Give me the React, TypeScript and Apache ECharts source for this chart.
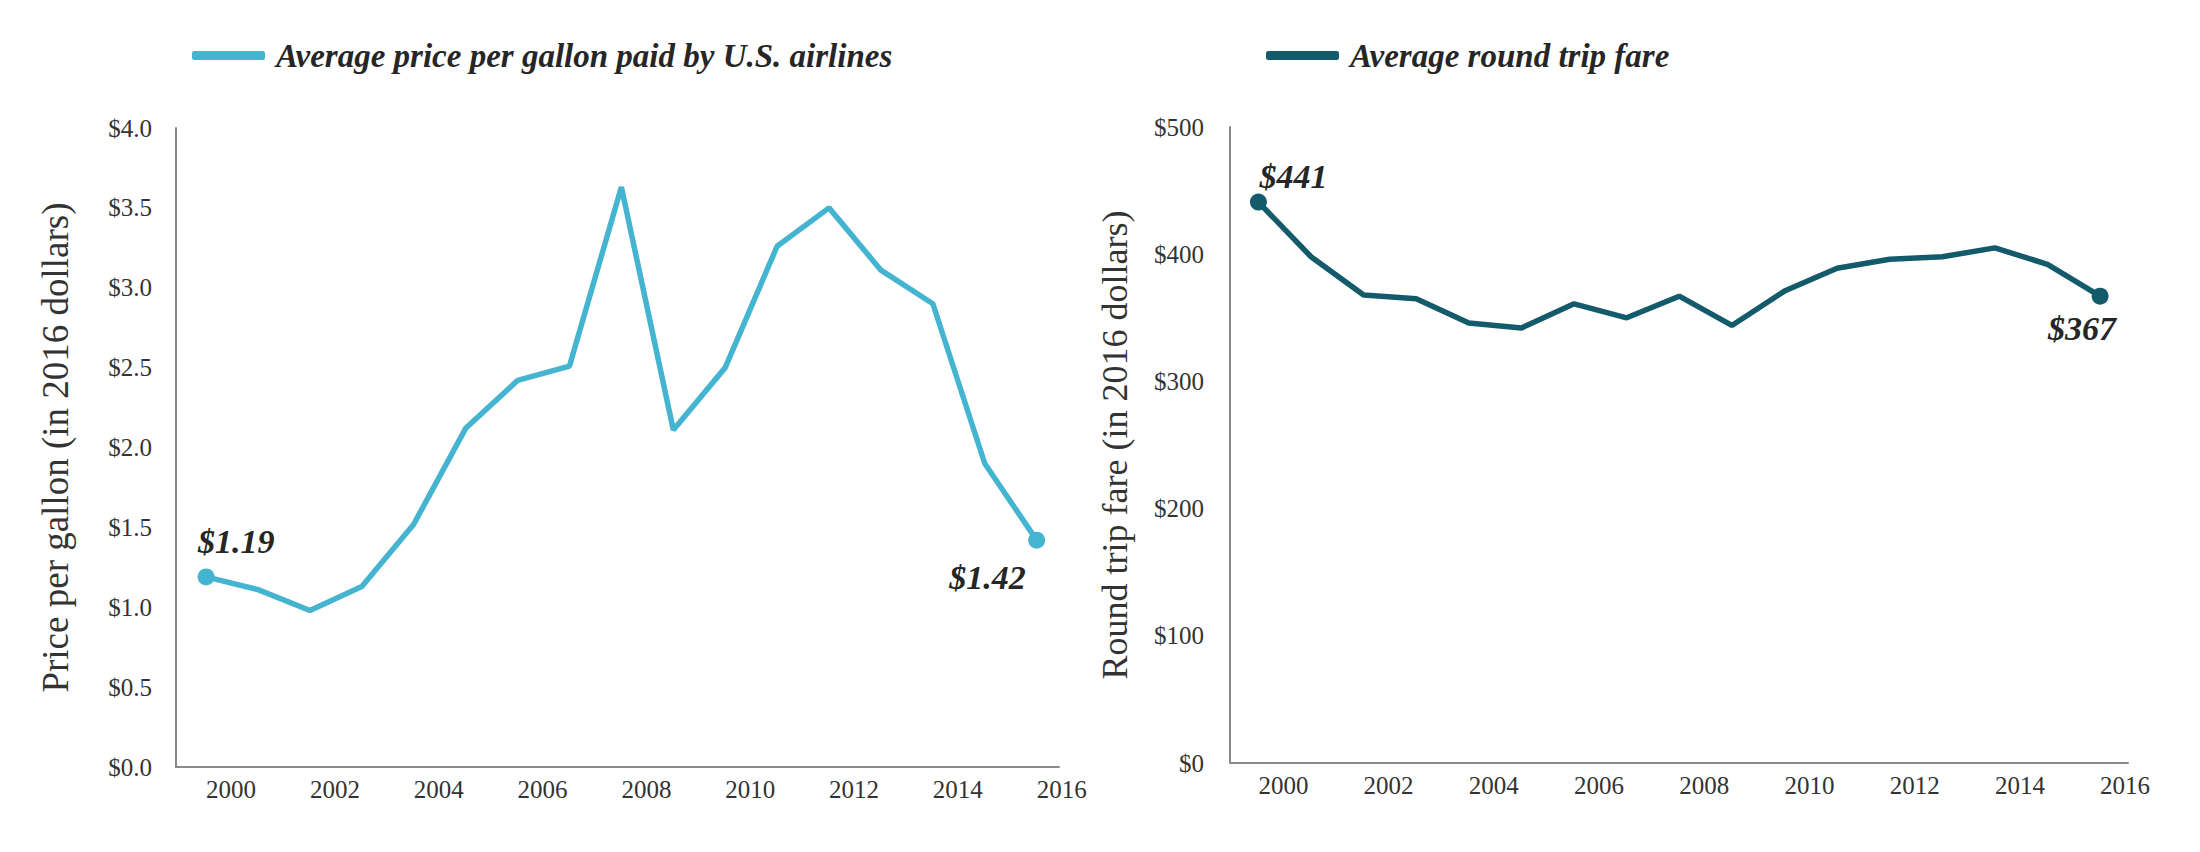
import React, { useEffect, useRef } from "react";
import * as echarts from "echarts";

const years = [2000, 2001, 2002, 2003, 2004, 2005, 2006, 2007, 2008, 2009, 2010, 2011, 2012, 2013, 2014, 2015, 2016];
const fuelPrice = [1.19, 1.11, 0.98, 1.13, 1.52, 2.12, 2.42, 2.51, 3.63, 2.11, 2.5, 3.26, 3.5, 3.11, 2.9, 1.9, 1.42];
const roundTripFare = [441, 398, 368, 365, 346, 342, 361, 350, 367, 344, 371, 389, 396, 398, 405, 392, 367];
const yearTicks = [2000, 2002, 2004, 2006, 2008, 2010, 2012, 2014, 2016];

const fuelName = "Average price per gallon paid by U.S. airlines";
const fareName = "Average round trip fare";
const fuelTitle = "Price per gallon (in 2016 dollars)";
const fareTitle = "Round trip fare (in 2016 dollars)";

const FUEL_COLOR = "#45b4d0";
const FARE_COLOR = "#135b6b";
const SERIF = "'Liberation Serif', 'DejaVu Serif', serif";
const AXIS_COLOR = "#8a8a8a";
const TEXT_COLOR = "#333333";
const LABEL_COLOR = "#262626";

function xAxisCfg(gridIndex: number, min: number, max: number) {
  return {
    type: "value",
    gridIndex,
    min,
    max,
    axisLine: { show: true, lineStyle: { color: AXIS_COLOR, width: 2 } },
    axisTick: { show: false, customValues: yearTicks },
    splitLine: { show: false },
    axisLabel: {
      customValues: yearTicks,
      formatter: (v: number) => String(Math.round(v)),
      align: "left",
      margin: 10,
      fontFamily: SERIF,
      fontSize: 25,
      color: TEXT_COLOR,
    },
  };
}

const legendText = {
  fontFamily: SERIF,
  fontSize: 33,
  fontWeight: "bold",
  fontStyle: "italic",
  color: LABEL_COLOR,
  padding: [0, 0, 0, 6],
};

export default function App() {
  const ref = useRef<HTMLDivElement>(null);

  useEffect(() => {
    if (!ref.current) return;
    const chart = echarts.init(ref.current, null, { renderer: "svg" });
    const last = years.length - 1;
    const endLabel = {
      show: true,
      position: "inside",
      fontFamily: SERIF,
      fontSize: 34,
      fontWeight: "bold",
      fontStyle: "italic",
      color: LABEL_COLOR,
      opacity: 1,
      verticalAlign: "middle",
    };

    const option: any = {
      animation: false,
      backgroundColor: "#ffffff",
      legend: [
        {
          data: [fuelName],
          left: 187,
          top: 34,
          icon: "roundRect",
          itemWidth: 73,
          itemHeight: 9,
          textStyle: legendText,
        },
        {
          data: [fareName],
          left: 1261,
          top: 34,
          icon: "roundRect",
          itemWidth: 73,
          itemHeight: 9,
          textStyle: legendText,
        },
      ],
      grid: [
        { left: 176, right: 1141, top: 128, bottom: 85 },
        { left: 1230, right: 72, top: 127, bottom: 89 },
      ],
      xAxis: [xAxisCfg(0, 1999.42, 2016.43), xAxisCfg(1, 1999.46, 2016.53)],
      yAxis: [
        {
          type: "value",
          gridIndex: 0,
          min: 0,
          max: 4,
          interval: 0.5,
          name: fuelTitle,
          nameLocation: "middle",
          nameGap: 102,
          nameTextStyle: { fontFamily: SERIF, fontSize: 37, color: TEXT_COLOR },
          axisLine: { show: true, lineStyle: { color: AXIS_COLOR, width: 2 } },
          axisTick: { show: false },
          splitLine: { show: false },
          axisLabel: {
            formatter: (v: number) => "$" + v.toFixed(1),
            margin: 24,
            fontFamily: SERIF,
            fontSize: 25,
            color: TEXT_COLOR,
          },
        },
        {
          type: "value",
          gridIndex: 1,
          min: 0,
          max: 500,
          interval: 100,
          name: fareTitle,
          nameLocation: "middle",
          nameGap: 97,
          nameTextStyle: { fontFamily: SERIF, fontSize: 36, color: TEXT_COLOR },
          axisLine: { show: true, lineStyle: { color: AXIS_COLOR, width: 2 } },
          axisTick: { show: false },
          splitLine: { show: false },
          axisLabel: {
            formatter: (v: number) => "$" + v,
            margin: 26,
            fontFamily: SERIF,
            fontSize: 25,
            color: TEXT_COLOR,
          },
        },
      ],
      series: [
        {
          name: fuelName,
          type: "line",
          xAxisIndex: 0,
          yAxisIndex: 0,
          showSymbol: false,
          color: FUEL_COLOR,
          lineStyle: { color: FUEL_COLOR, width: 5.5 },
          data: years.map((y, i) => [y, fuelPrice[i]]),
        },
        {
          name: "fuel-ends",
          type: "scatter",
          xAxisIndex: 0,
          yAxisIndex: 0,
          symbol: "circle",
          symbolSize: 17,
          itemStyle: { color: FUEL_COLOR, opacity: 1 },
          z: 5,
          label: { ...endLabel, formatter: (p: any) => "$" + p.value[1].toFixed(2) },
          data: [
            { value: [years[0], fuelPrice[0]], label: { align: "left", offset: [-8, -35] } },
            { value: [years[last], fuelPrice[last]], label: { align: "right", offset: [-11, 37] } },
          ],
        },
        {
          name: fareName,
          type: "line",
          xAxisIndex: 1,
          yAxisIndex: 1,
          showSymbol: false,
          color: FARE_COLOR,
          lineStyle: { color: FARE_COLOR, width: 5.5 },
          data: years.map((y, i) => [y, roundTripFare[i]]),
        },
        {
          name: "fare-ends",
          type: "scatter",
          xAxisIndex: 1,
          yAxisIndex: 1,
          symbol: "circle",
          symbolSize: 17,
          itemStyle: { color: FARE_COLOR, opacity: 1 },
          z: 5,
          label: { ...endLabel, formatter: (p: any) => "$" + Math.round(p.value[1]) },
          data: [
            { value: [years[0], roundTripFare[0]], label: { align: "left", offset: [1, -26] } },
            { value: [years[last], roundTripFare[last]], label: { align: "right", offset: [16, 32] } },
          ],
        },
      ],
    };

    chart.setOption(option);
    return () => chart.dispose();
  }, []);

  return (
    <div
      ref={ref}
      style={{ position: "absolute", left: 0, top: 0, width: 2200, height: 852, background: "#fff" }}
    />
  );
}
